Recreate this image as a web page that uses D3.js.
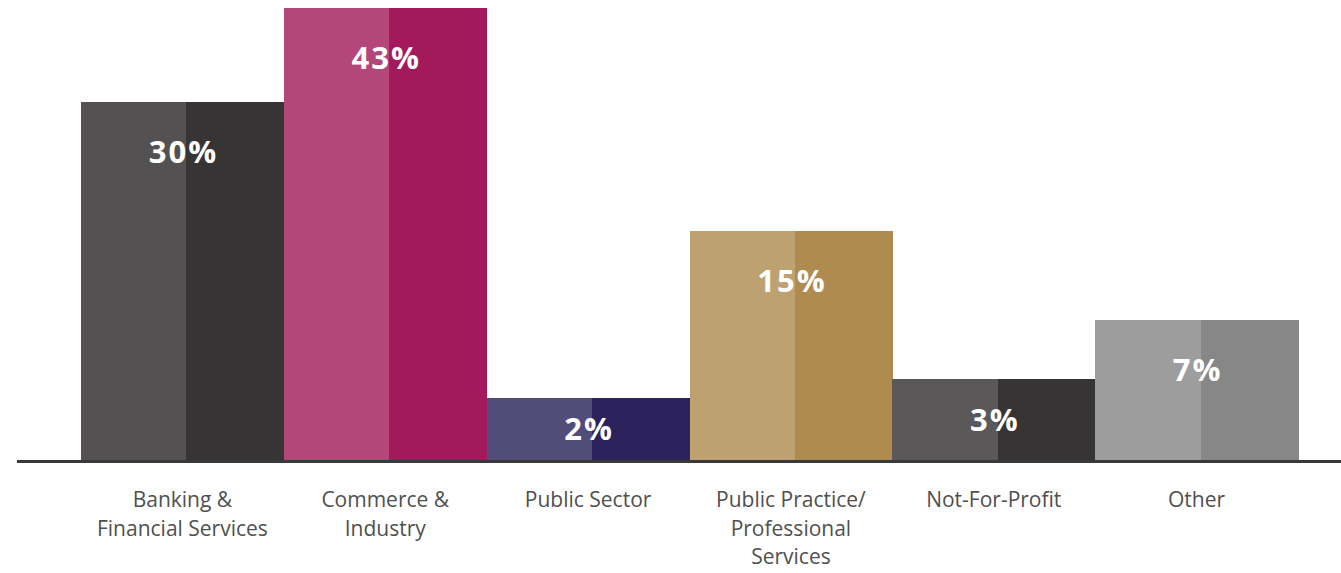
<!DOCTYPE html>
<html>
<head>
<meta charset="utf-8">
<script src="https://cdn.jsdelivr.net/npm/d3@7"></script>
<style>
  html, body { margin: 0; padding: 0; background: #fff; }
  svg { display: block; }
</style>
</head>
<body>
<svg id="chart" width="1341" height="573"></svg>
<script>
// Sector breakdown, percent of respondents
const categories = [
  ["Banking &", "Financial Services"],
  ["Commerce &", "Industry"],
  ["Public Sector"],
  ["Public Practice/", "Professional", "Services"],
  ["Not-For-Profit"],
  ["Other"]
];
const values = [30, 43, 2, 15, 3, 7];
const lightColors = ["#535152", "#b4467a", "#524c79", "#bea171", "#5a5859", "#9d9d9d"];
const darkColors  = ["#373435", "#a3195b", "#2c235c", "#b08b4f", "#373435", "#878787"];

const svg = d3.select("#chart");
const baseY = 460;

const keys = categories.map(c => c.join(" "));
const x = d3.scaleBand().domain(keys).range([81, 1298]).padding(0);
const y = d3.scalePow().exponent(0.645).domain([0, 43]).range([baseY, baseY - 452]);

const data = keys.map((k, i) => ({ key: k, lines: categories[i], value: values[i], light: lightColors[i], dark: darkColors[i] }));

const g = svg.append("g").attr("shape-rendering", "crispEdges");
const bars = g.selectAll("g.bar").data(data).join("g").attr("class", "bar");

// left (lighter) half and right (darker) half of each bar
const split = 0.52;
bars.append("rect")
  .attr("x", d => x(d.key))
  .attr("y", d => y(d.value))
  .attr("width", x.bandwidth() * split + 0.5)
  .attr("height", d => baseY - y(d.value))
  .attr("fill", d => d.light);
bars.append("rect")
  .attr("x", d => x(d.key) + x.bandwidth() * split)
  .attr("y", d => y(d.value))
  .attr("width", x.bandwidth() * (1 - split) + 0.5)
  .attr("height", d => baseY - y(d.value))
  .attr("fill", d => d.dark);

// value labels
bars.append("text")
  .attr("x", d => x(d.key) + x.bandwidth() / 2 + 1)
  .attr("y", d => {
    const top = y(d.value), h = baseY - top;
    return top + Math.min(50, h / 2);
  })
  .attr("dy", "0.36em")
  .attr("text-anchor", "middle")
  .attr("fill", "#ffffff")
  .attr("font-family", "'Open Sans', sans-serif")
  .attr("font-weight", 700)
  .attr("font-size", 31)
  .attr("letter-spacing", 2)
  .text(d => d.value + "%");

// baseline
svg.append("line")
  .attr("x1", 17).attr("x2", 1341)
  .attr("y1", baseY + 1.5).attr("y2", baseY + 1.5)
  .attr("stroke", "#3a393a")
  .attr("stroke-width", 3);

// category labels
const labels = svg.append("g").selectAll("text").data(data).join("text")
  .attr("x", d => x(d.key) + x.bandwidth() / 2)
  .attr("y", 507)
  .attr("text-anchor", "middle")
  .attr("fill", "#505050")
  .attr("font-family", "'Open Sans', sans-serif")
  .attr("font-weight", 400)
  .attr("font-size", 21);
labels.selectAll("tspan").data(d => d.lines).join("tspan")
  .attr("x", function() { return d3.select(this.parentNode).attr("x"); })
  .attr("dy", (d, i) => i === 0 ? 0 : 28.5)
  .text(d => d);
</script>
</body>
</html>
